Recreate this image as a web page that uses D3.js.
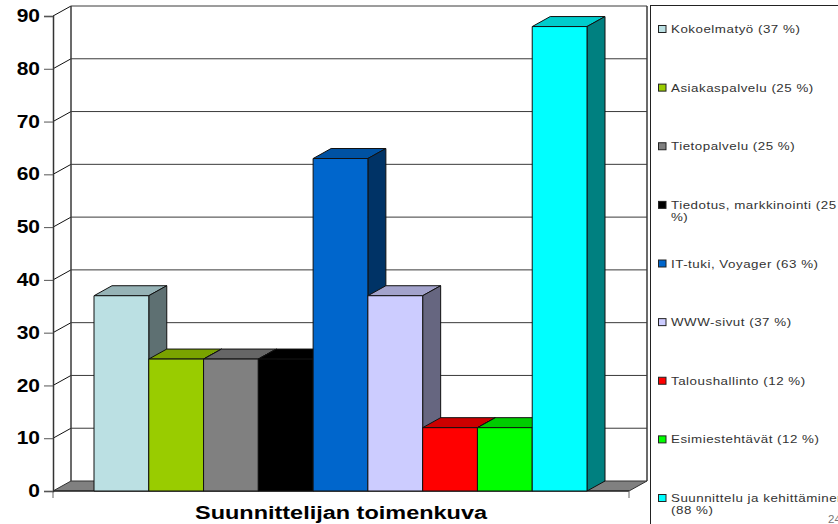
<!DOCTYPE html>
<html>
<head>
<meta charset="utf-8">
<script src="https://cdn.jsdelivr.net/npm/d3@7"></script>
<style>
html, body { margin: 0; padding: 0; background: #fff; overflow: hidden; }
text { font-family: "Liberation Sans", Arial, sans-serif; }
</style>
</head>
<body>
<div id="content"></div>
<script>
var categories = ["Kokoelmatyö", "Asiakaspalvelu", "Tietopalvelu", "Tiedotus, markkinointi", "IT-tuki, Voyager", "WWW-sivut", "Taloushallinto", "Esimiestehtävät", "Suunnittelu ja kehittäminen"];
var values = [37, 25, 25, 25, 63, 37, 12, 12, 88];
var colors = ["#BBE0E3", "#99CC00", "#808080", "#000000", "#0066CC", "#CCCCFF", "#FF0000", "#00FF00", "#00FFFF"];
var yTicks = [0, 10, 20, 30, 40, 50, 60, 70, 80, 90];
var chartTitle = "Suunnittelijan toimenkuva";

var width = 838, height = 524;
var x0 = 53, x1 = 629;      // front of the floor
var dx = 18, dy = -10;      // 3d depth
var stretch = 1.16;         // the original picture is stretched sideways

var svg = d3.select("#content").append("svg")
    .attr("width", width)
    .attr("height", height)
    .style("display", "block");

var y = d3.scaleLinear().domain([0, 90]).range([491, 16]);
var x = d3.scaleBand().domain(categories).range([94, 587]).padding(0);

function shade(c, k) {
    var r = d3.rgb(c);
    return d3.rgb(r.r * k, r.g * k, r.b * k).formatHex();
}

// floor
svg.append("polygon")
    .attr("points", [[x0, y(0)], [x0 + dx, y(0) + dy], [x1 + dx, y(0) + dy], [x1, y(0)]].join(" "))
    .attr("fill", "#808080")
    .attr("stroke", "#333");

// gridlines on the back wall and the side wall
var lineColor = "#3a3a3a";
svg.selectAll(".grid")
    .data(yTicks.slice(1))
    .enter().append("line")
    .attr("x1", x0 + dx).attr("x2", x1 + dx)
    .attr("y1", function (d) { return y(d) + dy; })
    .attr("y2", function (d) { return y(d) + dy; })
    .attr("stroke", lineColor).attr("stroke-width", 1);

svg.selectAll(".side")
    .data(yTicks.slice(1))
    .enter().append("line")
    .attr("x1", x0).attr("x2", x0 + dx)
    .attr("y1", function (d) { return y(d); })
    .attr("y2", function (d) { return y(d) + dy; })
    .attr("stroke", "#111").attr("stroke-width", 1);

// back wall verticals
[x0 + dx, x1 + dx].forEach(function (px) {
    svg.append("line")
        .attr("x1", px).attr("x2", px)
        .attr("y1", y(90) + dy).attr("y2", y(0) + dy)
        .attr("stroke", lineColor).attr("stroke-width", 1.5);
});

// front baseline and the two small ticks under it
svg.append("line")
    .attr("x1", x0).attr("x2", x1)
    .attr("y1", y(0)).attr("y2", y(0))
    .attr("stroke", "#111").attr("stroke-width", 1);
[x0, x1].forEach(function (px) {
    svg.append("line")
        .attr("x1", px).attr("x2", px)
        .attr("y1", y(0)).attr("y2", y(0) + 7)
        .attr("stroke", "#666").attr("stroke-width", 1);
});

// bars, left to right so the next front covers the side before it
var bars = svg.selectAll(".bar")
    .data(categories)
    .enter().append("g")
    .attr("class", "bar");

bars.each(function (c, i) {
    var g = d3.select(this);
    var l = x(c), r = l + x.bandwidth(), t = y(values[i]), b = y(0);
    g.append("polygon")
        .attr("points", [[l, t], [l + dx, t + dy], [r + dx, t + dy], [r, t]].join(" "))
        .attr("fill", shade(colors[i], 0.8));
    g.append("polygon")
        .attr("points", [[r, t], [r + dx, t + dy], [r + dx, b + dy], [r, b]].join(" "))
        .attr("fill", shade(colors[i], 0.5));
    g.append("rect")
        .attr("x", l).attr("y", t)
        .attr("width", x.bandwidth()).attr("height", b - t)
        .attr("fill", colors[i]);
    g.selectAll("polygon, rect")
        .attr("stroke", "#111").attr("stroke-width", 1).attr("stroke-linejoin", "round");
});

// y axis
var axis = svg.append("g")
    .attr("transform", "translate(" + x0 + ",0)")
    .call(d3.axisLeft(y).tickValues(yTicks).tickSize(9).tickPadding(4).tickFormat(d3.format("d")));
axis.selectAll(".domain").attr("stroke", "#333").attr("stroke-width", 1.5);
axis.selectAll(".tick line").attr("stroke", "#555");
axis.selectAll("text")
    .attr("fill", "#000")
    .attr("x", -13 / 1.2)
    .attr("transform", "scale(1.2,1)")
    .style("font-family", "'Liberation Sans', Arial, sans-serif")
    .style("font-size", "17.5px")
    .style("font-weight", "bold");

// title
svg.append("text")
    .attr("x", 341).attr("y", 519)
    .attr("text-anchor", "middle")
    .attr("textLength", 292)
    .attr("lengthAdjust", "spacingAndGlyphs")
    .style("font-size", "18px")
    .style("font-weight", "bold")
    .text(chartTitle);

// legend
svg.append("rect")
    .attr("x", 650.5).attr("y", 5.5)
    .attr("width", 240).attr("height", 560)
    .attr("fill", "#fff")
    .attr("stroke", "#222");

var rowY = d3.scalePoint().domain(categories).range([29, 498]);

var rows = svg.selectAll(".legend")
    .data(categories)
    .enter().append("g")
    .attr("class", "legend")
    .attr("transform", function (c) { return "translate(658," + rowY(c) + ")"; });

rows.append("rect")
    .attr("x", 0.5).attr("y", -3.5)
    .attr("width", 7.5).attr("height", 7)
    .attr("stroke", "#222")
    .attr("fill", function (c, i) { return colors[i]; });

rows.each(function (c, i) {
    var lines = [c + " (" + values[i] + " %)"];
    if (c === "Tiedotus, markkinointi") lines = [c + " (" + values[i], "%)"];
    if (c === "Suunnittelu ja kehittäminen") lines = [c, "(" + values[i] + " %)"];
    var t = d3.select(this).append("text")
        .attr("y", 4)
        .attr("transform", "scale(" + stretch + ",1)")
        .attr("fill", "#333")
        .style("font-size", "11.5px")
        .style("letter-spacing", "0.45px");
    lines.forEach(function (s, k) {
        t.append("tspan").attr("x", 13 / stretch).attr("dy", k ? 12 : 0).text(s);
    });
});

// page number, cut by the edge in the original
svg.append("text")
    .attr("x", 828).attr("y", 523)
    .attr("fill", "#777")
    .style("font-size", "11.5px")
    .text("24");
</script>
</body>
</html>
